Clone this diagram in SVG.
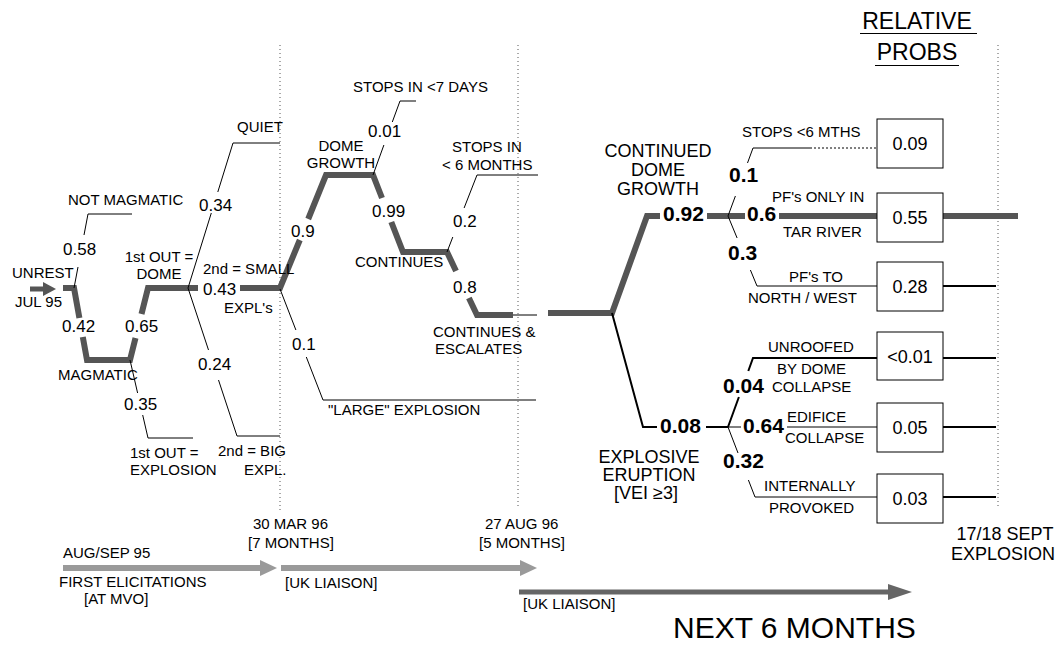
<svg xmlns="http://www.w3.org/2000/svg" width="1063" height="646" viewBox="0 0 1063 646">
<style>
text{font-family:"Liberation Sans",Arial,sans-serif;font-size:15px;fill:#000}
.p{font-size:17px}
.b{font-size:21px;font-weight:bold}
.big{font-size:18px;text-anchor:middle}
.v{font-size:18px;text-anchor:middle}
.c{text-anchor:middle}
.hd{font-size:23px;text-anchor:middle}
.huge{font-size:30px}
.thick{fill:none;stroke:#555;stroke-width:6;stroke-linejoin:miter}
.thin{fill:none;stroke:#000;stroke-width:1}
.med{fill:none;stroke:#000;stroke-width:2}
.dot{fill:none;stroke:#555;stroke-width:1;stroke-dasharray:1 3}
.box{fill:#fff;stroke:#000;stroke-width:1}
</style>
<g id="timelines">
<line class="dot" x1="280" y1="45" x2="280" y2="512"/>
<line class="dot" x1="518" y1="45" x2="518" y2="508"/>
<line class="dot" x1="998" y1="45" x2="998" y2="508"/>
</g>
<g id="connectors">
<line x1="30" y1="289" x2="44" y2="289" stroke="#555" stroke-width="5"/>
<polygon points="43,282 56,289 43,296" fill="#555"/>
<path class="thick" d="M63,288 H74 L79.4,318"/>
<path class="thick" d="M82.8,337 L87,360 H130 L135.5,338"/>
<path class="thick" d="M141.5,314 L148,288 H198"/>
<path class="thick" d="M240,288 H280 L299.8,240"/>
<path class="thick" d="M308.2,219 L326,175 H373 L382,198"/>
<path class="thick" d="M391.3,222 L403,252 H447 L456,271"/>
<path class="thick" d="M468.9,298 L477,315 H513"/>
<path class="thin" d="M513,315 H537"/>
<path class="thick" d="M548,313 H612 L647,216 H660"/>
<path class="thick" d="M707,216 H745"/>
<path class="thick" d="M779,216 H1018"/>
<path class="thin" d="M74,288 L78,267 M84,235 L88,214 H132"/>
<path class="thin" d="M130,360 L137.6,393 M142.7,415 L148,438 H193"/>
<path class="thin" d="M188,288 L211.3,213 M217.8,192 L233,143 H280"/>
<path class="thin" d="M188,288 L208.5,350 M218.5,380 L237,436 H280"/>
<path class="thin" d="M280,289 L295.9,330 M306.3,357 L323,400 H536"/>
<path class="thin" d="M373,175 L383.9,145 M392.3,122 L400,101 H416"/>
<path class="thin" d="M447,252 L452.8,237 M464.1,208 L477,175 H538"/>
<path class="thin" d="M728,216 L735.4,196 M747.5,163 L753,148 H810"/>
<path class="thin" d="M810,148 H877" stroke-dasharray="2 2"/>
<path class="thin" d="M728,216 L737.1,238 M750.4,270 L757,286 H877"/>
<path class="med" d="M612,313 L643,427 H657 M706,427 H728"/>
<path class="med" d="M728,427 L738.9,397 M748.3,371 L753,358 H877"/>
<path class="thin" d="M728,427 H741 M787,427 H877"/>
<path class="thin" d="M728,427 L738,453 M748.4,480 L755,497 H877"/>
<path class="med" d="M943,286 H996 M943,358 H996 M943,427 H996 M943,497 H996"/>
</g>
<g id="boxes">
<g id="b1"><rect class="box" x="877" y="119" width="66" height="49"/><text class="v" x="910" y="150">0.09</text></g>
<g id="b2"><rect class="box" x="877" y="193" width="66" height="49"/><text class="v" x="910" y="224">0.55</text></g>
<g id="b3"><rect class="box" x="877" y="262" width="66" height="49"/><text class="v" x="910" y="293">0.28</text></g>
<g id="b4"><rect class="box" x="877" y="332" width="66" height="48"/><text class="v" x="910" y="363">&lt;0.01</text></g>
<g id="b5"><rect class="box" x="877" y="403" width="66" height="49"/><text class="v" x="910" y="434">0.05</text></g>
<g id="b6"><rect class="box" x="877" y="474" width="66" height="49"/><text class="v" x="910" y="505">0.03</text></g>
</g>
<g id="stage1">
<text x="12" y="278">UNREST</text>
<text x="15" y="307">JUL 95</text>
<text x="68" y="205">NOT MAGMATIC</text>
<text class="p" x="63" y="255">0.58</text>
<text class="p" x="62" y="332">0.42</text>
<text x="58" y="380">MAGMATIC</text>
</g>
<g id="stage2">
<text class="p" x="125" y="332">0.65</text>
<text class="c" x="159" y="262">1st OUT =</text>
<text class="c" x="159" y="279">DOME</text>
<text class="p" x="124" y="410">0.35</text>
<text x="130" y="458">1st OUT =</text>
<text x="130" y="475">EXPLOSION</text>
</g>
<g id="stage3">
<text x="237" y="132">QUIET</text>
<text class="p" x="199" y="211">0.34</text>
<text x="203" y="274">2nd = SMALL</text>
<text class="p" x="203" y="295">0.43</text>
<text x="224" y="313">EXPL's</text>
<text class="p" x="198" y="370">0.24</text>
<text x="218" y="456">2nd = BIG</text>
<text x="244" y="475">EXPL.</text>
</g>
<g id="stage4">
<text class="p" x="291" y="237">0.9</text>
<text class="c" x="341" y="151">DOME</text>
<text class="c" x="341" y="168">GROWTH</text>
<text x="353" y="92">STOPS IN &lt;7 DAYS</text>
<text class="p" x="368" y="137">0.01</text>
<text class="p" x="372" y="217">0.99</text>
<text x="355" y="267">CONTINUES</text>
<text x="452" y="152">STOPS IN</text>
<text x="442" y="170">&lt; 6 MONTHS</text>
<text class="p" x="453" y="227">0.2</text>
<text class="p" x="453" y="293">0.8</text>
<text x="433" y="337">CONTINUES &amp;</text>
<text x="435" y="354">ESCALATES</text>
<text class="p" x="292" y="350">0.1</text>
<text x="328" y="415">"LARGE" EXPLOSION</text>
</g>
<g id="stage5">
<text class="big" x="658" y="157">CONTINUED</text>
<text class="big" x="658" y="176">DOME</text>
<text class="big" x="658" y="195">GROWTH</text>
<text class="b" x="663" y="221">0.92</text>
<text class="b" x="729" y="182">0.1</text>
<text class="b" x="747" y="221">0.6</text>
<text class="b" x="728" y="260">0.3</text>
<text x="742" y="137">STOPS &lt;6 MTHS</text>
<text x="772" y="202">PF's ONLY IN</text>
<text x="783" y="237">TAR RIVER</text>
<text x="789" y="282">PF's TO</text>
<text x="748" y="303">NORTH / WEST</text>
<text class="b" x="660" y="433">0.08</text>
<text class="big" x="649" y="463">EXPLOSIVE</text>
<text class="big" x="649" y="481">ERUPTION</text>
<text class="big" x="646" y="499">[VEI ≥3]</text>
<text class="b" x="723" y="393">0.04</text>
<text class="b" x="743" y="433">0.64</text>
<text class="b" x="723" y="468">0.32</text>
<text x="768" y="352">UNROOFED</text>
<text x="777" y="374">BY DOME</text>
<text x="772" y="392">COLLAPSE</text>
<text x="787" y="422">EDIFICE</text>
<text x="785" y="443">COLLAPSE</text>
<text x="764" y="491">INTERNALLY</text>
<text x="769" y="513">PROVOKED</text>
</g>
<g id="header">
<text class="hd" x="917" y="29">RELATIVE</text>
<line x1="860" y1="33.5" x2="977" y2="33.5" stroke="#000" stroke-width="1"/>
<text class="hd" x="917" y="60">PROBS</text>
<line x1="875" y1="65.5" x2="959" y2="65.5" stroke="#000" stroke-width="1"/>
<text class="big" x="1005" y="540">17/18 SEPT</text>
<text class="big" x="1003" y="560">EXPLOSION</text>
</g>
<g id="timeline-arrows">
<line x1="63" y1="568" x2="262" y2="568" stroke="#9a9a9a" stroke-width="6"/>
<polygon points="260,560 277,568 260,576" fill="#9a9a9a"/>
<line x1="281" y1="568" x2="522" y2="568" stroke="#9a9a9a" stroke-width="6"/>
<polygon points="520,560 537,568 520,576" fill="#9a9a9a"/>
<line x1="519" y1="592" x2="890" y2="592" stroke="#666" stroke-width="5"/>
<polygon points="888,584 912,592 888,600" fill="#666"/>
<text x="63" y="558">AUG/SEP 95</text>
<text x="59" y="587">FIRST ELICITATIONS</text>
<text x="84" y="604">[AT MVO]</text>
<text x="253" y="529">30 MAR 96</text>
<text x="248" y="548">[7 MONTHS]</text>
<text x="285" y="588">[UK LIAISON]</text>
<text x="485" y="529">27 AUG 96</text>
<text x="479" y="548">[5 MONTHS]</text>
<text x="523" y="609">[UK LIAISON]</text>
<text class="huge" x="673" y="638">NEXT 6 MONTHS</text>
</g>
</svg>
